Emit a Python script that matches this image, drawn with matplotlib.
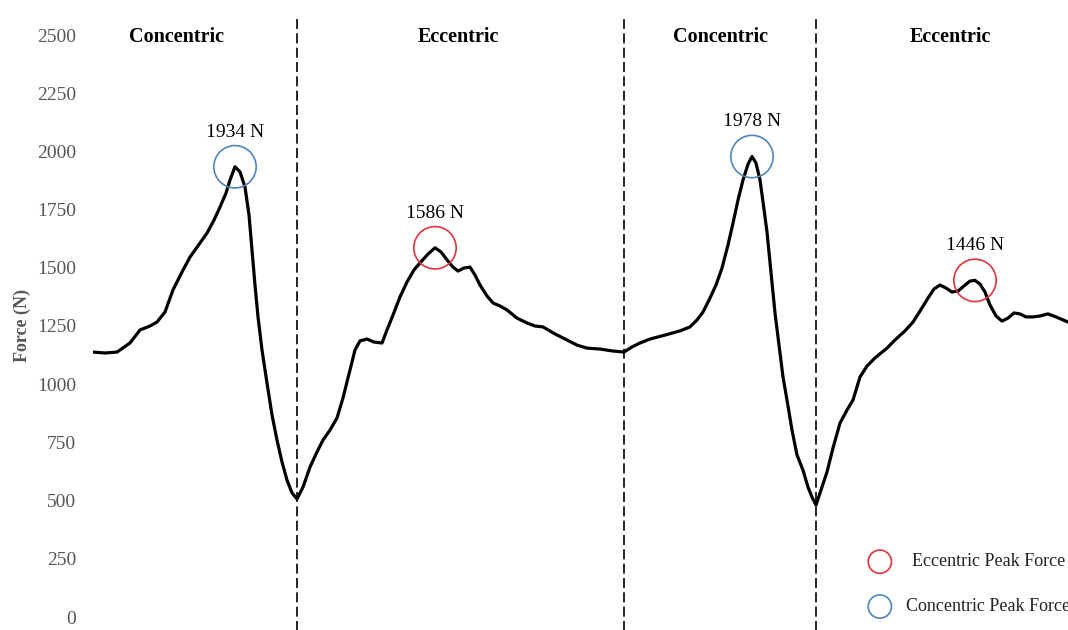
import matplotlib.pyplot as plt

plt.rcParams.update({
    "font.family": ["Liberation Serif", "DejaVu Serif"],
    "font.size": 14,
})

# time axis (arbitrary units) and force (N)
t = [93, 105, 117, 130, 140, 150, 157, 165, 173, 182, 190, 200, 207, 214, 220,
     226, 230, 235, 240, 245, 249, 252, 255, 258, 262, 267, 272, 277, 282, 287,
     292, 297, 303, 310, 317, 323, 330, 337, 343, 350, 355, 360, 367, 374, 382,
     387, 393, 400, 407, 414, 420, 428, 435, 441, 447, 453, 458, 464, 470, 475,
     480, 487, 493, 500, 507, 517, 527, 535, 543, 555, 567, 577, 587, 600, 612,
     624, 632, 640, 650, 665, 680, 690, 697, 703, 710, 716, 722, 728, 733, 738,
     743, 748, 752, 756, 760, 763, 767, 771, 775, 779, 783, 787, 792, 797, 803,
     808, 812, 816, 821, 827, 833, 840, 847, 853, 860, 867, 875, 887, 895, 905,
     913, 920, 928, 934, 940, 946, 952, 958, 964, 970, 975, 980, 985, 990, 996,
     1002, 1008, 1014, 1020, 1026, 1033, 1040, 1048, 1056, 1063, 1068]
force = [1138, 1134, 1138, 1177, 1233, 1250, 1267, 1310, 1405, 1482, 1546, 1607, 1649, 1705, 1761,
         1821, 1877, 1934, 1912, 1847, 1727, 1576, 1426, 1289, 1147, 1005, 868, 760, 666, 588,
         533, 507, 558, 644, 709, 760, 803, 855, 941, 1061, 1147, 1186, 1194, 1181, 1177,
         1233, 1297, 1375, 1439, 1491, 1521, 1559, 1586, 1568, 1534, 1503, 1486, 1499, 1503, 1469,
         1426, 1379, 1349, 1336, 1319, 1284, 1263, 1250, 1246, 1216, 1190, 1168, 1155, 1151, 1143,
         1138, 1160, 1177, 1194, 1211, 1229, 1246, 1276, 1310, 1370, 1426, 1499, 1598, 1692, 1791,
         1877, 1945, 1978, 1950, 1877, 1783, 1654, 1482, 1306, 1168, 1031, 932, 803, 696, 631,
         558, 515, 481, 546, 623, 726, 833, 889, 932, 1031, 1078, 1113, 1155, 1190, 1229,
         1267, 1314, 1370, 1409, 1426, 1413, 1396, 1400, 1422, 1443, 1446, 1430, 1396, 1340, 1293,
         1271, 1284, 1306, 1302, 1289, 1289, 1293, 1302, 1289, 1276, 1267]

phase_bounds = [297, 624, 816]
phase_names = ["Concentric", "Eccentric", "Concentric", "Eccentric"]
phase_centers = [176, 458, 720, 950]

peak_t = [235, 435, 752, 975]
peak_f = [1934, 1586, 1978, 1446]
peak_kind = ["con", "ecc", "con", "ecc"]

legend_labels = ["Eccentric Peak Force", "Concentric Peak Force"]

RED = "#e0343c"
BLUE = "#4f84bd"

fig = plt.figure(figsize=(10.68, 6.3), dpi=100)
ax = fig.add_axes([93/1068, 13/630, 975/1068, 582/630])

ax.plot(t, force, color="black", lw=2.3, solid_joinstyle="round", solid_capstyle="round")

for b in phase_bounds:
    ax.axvline(b, ymin=-0.025, ymax=1.035, clip_on=False, color="black",
               lw=1.2, linestyle=(0, (6, 2.6)))

for name, c in zip(phase_names, phase_centers):
    ax.text(c, 0.997, name, transform=ax.get_xaxis_transform(), ha="center",
            va="center", fontsize=14.5, fontweight="bold")

for pt, pf, k in zip(peak_t, peak_f, peak_kind):
    col = BLUE if k == "con" else RED
    ax.scatter([pt], [pf], s=930, facecolors="none", edgecolors=col, linewidths=1.2, zorder=3)
    ax.annotate(f"{pf} N", (pt, pf), xytext=(0, 25), textcoords="offset points",
                ha="center", va="center", fontsize=14)

# legend drawn by hand, runs off the right edge like the original
ax.scatter([0.807], [0.095], s=280, facecolors="none", edgecolors=RED, linewidths=1.2,
           transform=ax.transAxes, clip_on=False)
ax.text(0.84, 0.095, legend_labels[0], transform=ax.transAxes, ha="left", va="center",
        fontsize=13, color="#222222", clip_on=False)
ax.scatter([0.807], [0.018], s=280, facecolors="none", edgecolors=BLUE, linewidths=1.2,
           transform=ax.transAxes, clip_on=False)
ax.text(0.834, 0.018, legend_labels[1], transform=ax.transAxes, ha="left", va="center",
        fontsize=13, color="#222222", clip_on=False)

ax.set_xlim(93, 1068)
ax.set_ylim(0, 2500)
ax.set_yticks(range(0, 2501, 250))
ax.set_xticks([])
ax.tick_params(axis="y", length=0, pad=12, labelsize=14, labelcolor="#555555")
for s in ax.spines.values():
    s.set_visible(False)

ax.set_ylabel("Force (N)", fontsize=13, fontweight="bold", color="#555555")
ax.yaxis.set_label_coords(-0.064, 0.5)

fig.savefig("out.png", dpi=100)
